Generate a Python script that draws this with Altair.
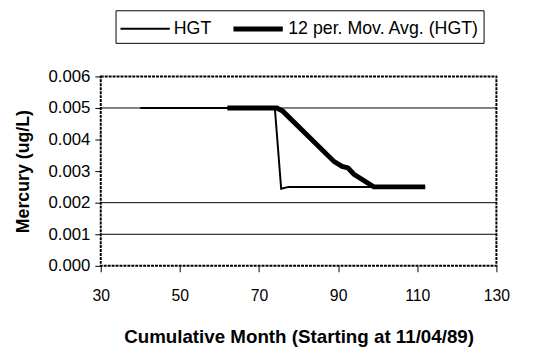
import altair as alt
import pandas as pd

hgt_month = [40, 74, 75.6, 77.5, 112]
hgt_value = [0.005, 0.005, 0.00244, 0.0025, 0.0025]

ma_month = [62, 74.5, 76, 89, 91, 92.5, 94, 99, 112]
ma_value = [0.005, 0.005, 0.0049, 0.0033, 0.00315, 0.0031, 0.0029, 0.0025, 0.0025]

series_names = ["HGT", "12 per. Mov. Avg. (HGT)"]
grid_values = [0.001, 0.002, 0.005]
x_ticks = [30, 50, 70, 90, 110, 130]
y_ticks = [0, 0.001, 0.002, 0.003, 0.004, 0.005, 0.006]

rows = [{"month": m, "value": v, "series": series_names[0], "order": i} for i, (m, v) in enumerate(zip(hgt_month, hgt_value))]
rows += [{"month": m, "value": v, "series": series_names[1], "order": i} for i, (m, v) in enumerate(zip(ma_month, ma_value))]
df = pd.DataFrame(rows)
grid_df = pd.DataFrame({"g": grid_values})

font = "Liberation Sans"

xscale = alt.Scale(domain=[30, 130], nice=False, zero=False)
yscale = alt.Scale(domain=[0, 0.006], nice=False)

yaxis = alt.Axis(values=y_ticks, format=".3f",
                 title="Mercury (ug/L)", grid=False, domain=False, ticks=True,
                 tickColor="black", tickSize=6, labelFontSize=17, labelColor="black",
                 labelFont=font, labelPadding=5, labelOverlap=False, labelFlush=False,
                 titleFont=font, titleFontSize=18, titleFontWeight="bold", titleColor="black",
                 titlePadding=16)

grid = alt.Chart(grid_df).mark_rule(color="black", strokeWidth=1).encode(
    y=alt.Y("g:Q", scale=yscale, axis=yaxis, title="Mercury (ug/L)")
)

lines = alt.Chart(df).mark_line(color="black").encode(
    x=alt.X("month:Q", scale=xscale,
            axis=alt.Axis(values=x_ticks, title="Cumulative Month (Starting at 11/04/89)",
                          grid=False, domain=False, ticks=True, tickColor="black", tickSize=6,
                          labelFontSize=16, labelColor="black", labelFont=font, labelPadding=16,
                          labelOverlap=False, labelFlush=False,
                          titleFont=font, titleFontSize=19, titleFontWeight="bold", titleColor="black",
                          titlePadding=25)),
    y=alt.Y("value:Q", scale=yscale, axis=yaxis, title="Mercury (ug/L)"),
    strokeWidth=alt.StrokeWidth("series:N",
                                scale=alt.Scale(domain=series_names, range=[2, 5]),
                                legend=alt.Legend(title=None, orient="none", legendX=15, legendY=-67,
                                                  direction="horizontal", symbolType="M-1,0H3",
                                                  symbolStrokeColor="black", symbolSize=625,
                                                  labelFont=font, labelFontSize=18, labelColor="black",
                                                  labelLimit=0,
                                                  strokeColor="black", padding=4, columnPadding=12,
                                                  labelOffset=28)),
    order="order:Q",
)

chart = alt.layer(grid, lines).properties(
    width=401, height=192,
    background="white",
    autosize=alt.AutoSizeParams(type="none"),
    padding={"left": 94, "top": 67, "right": 30, "bottom": 85},
).configure_view(
    stroke="black", strokeDash=[3, 1], strokeWidth=2
)

chart.save("out.html", embed_options={"renderer": "svg", "actions": False})
